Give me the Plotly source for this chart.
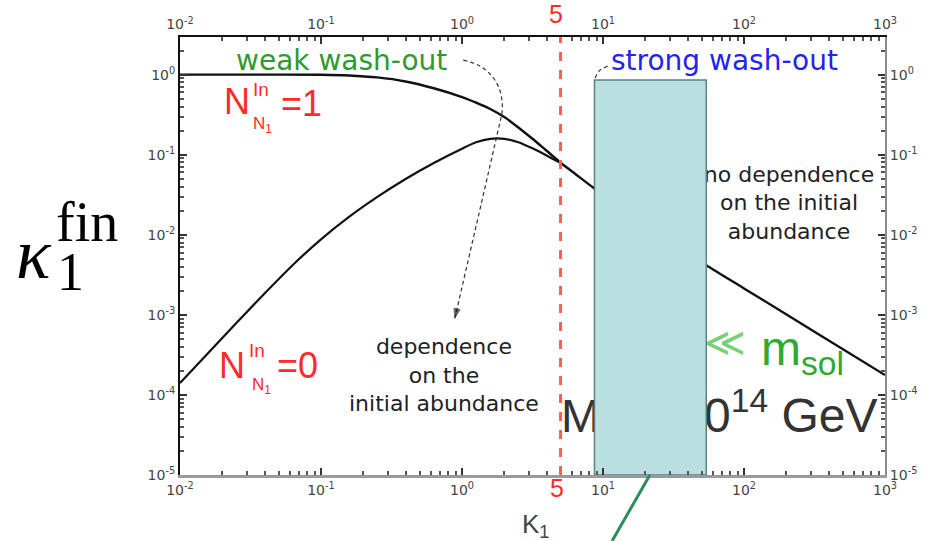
import plotly.graph_objects as go

# ---------------- data ----------------
K_N1 = [0.01, 0.0316, 0.1, 0.158, 0.251, 0.398, 0.631, 1.0, 1.259, 1.585, 1.995, 2.51,
        3.16, 3.98, 5.01, 6.31, 8.6, 15.85, 31.6, 53.7, 100, 316, 1000]
KAPPA_N1 = [1.0, 1.0, 0.995, 0.977, 0.923, 0.822, 0.676, 0.525, 0.447, 0.372, 0.295,
            0.219, 0.158, 0.112, 0.0794, 0.0582, 0.0384, 0.0182, 0.00794, 0.00419,
            0.00214, 0.000617, 0.000177]
K_N0 = [0.01, 0.01585, 0.0251, 0.0398, 0.0631, 0.1, 0.158, 0.251, 0.398, 0.631, 1.0,
        1.259, 1.585, 1.995, 2.51, 3.16, 3.98, 5.01]
KAPPA_N0 = [1.41e-4, 3.33e-4, 7.89e-4, 1.85e-3, 4.20e-3, 8.77e-3, 0.0167, 0.0297, 0.0498,
            0.0789, 0.119, 0.143, 0.158, 0.158, 0.143, 0.120, 0.0977, 0.0785]
K_CRIT = 5                      # red dashed line
BOX_K = [8.7, 54]               # strong wash-out band
BOX_TOP = 0.86
ARROW_WEAK_K = [1.02, 1.34, 1.63, 1.83, 1.92, 1.92, 1.86, 0.89]
ARROW_WEAK_KAPPA = [1.52, 1.28, 0.96, 0.68, 0.48, 0.33, 0.256, 9.1e-4]
ARROW_STRONG_K = [10.8, 9.4, 8.8]
ARROW_STRONG_KAPPA = [1.28, 1.11, 0.91]
GREEN_LINE_K = [21.5, 11.6]

X_TICKS = [0.01, 0.1, 1, 10, 100, 1000]
X_TICKTEXT = ["10<sup>-2</sup>", "10<sup>-1</sup>", "10<sup>0</sup>",
              "10<sup>1</sup>", "10<sup>2</sup>", "10<sup>3</sup>"]
Y_TICKS = [1e-5, 1e-4, 1e-3, 1e-2, 1e-1, 1]
Y_TICKTEXT = ["10<sup>-5</sup>", "10<sup>-4</sup>", "10<sup>-3</sup>",
              "10<sup>-2</sup>", "10<sup>-1</sup>", "10<sup>0</sup>"]

# ---------------- geometry helpers (layout positions) ----------------
PL, PR, PT, PB = 180, 885, 37, 475
XR = [-2, 3]
YR = [-5, 0.47]


def px_x(px):
    return (px - PL) / (PR - PL)


def px_y(py):
    return (PB - py) / (PB - PT)


def k_at(px):
    return 10 ** (XR[0] + (XR[1] - XR[0]) * px_x(px))


def v_at(py):
    return 10 ** (YR[0] + (YR[1] - YR[0]) * px_y(py))


minor_x = [m * 10 ** e for e in range(-2, 3) for m in range(2, 10)]
minor_y = [m * 10 ** e for e in range(-5, 1) for m in range(2, 10)]

fig = go.Figure()

# text that sits beneath the band
fig.add_trace(go.Scatter(
    x=[k_at(789)], y=[v_at(205)], mode="text",
    text=["no dependence<br>on the initial<br>abundance"],
    textposition="middle center",
    textfont=dict(family="DejaVu Sans", size=22, color="#222"),
    hoverinfo="skip", showlegend=False))
fig.add_trace(go.Scatter(
    x=[k_at(561)], y=[v_at(420)], mode="text",
    text=["M<sub>1</sub> = 1"], textposition="middle right",
    textfont=dict(family="Liberation Sans", size=47, color="#333"),
    hoverinfo="skip", showlegend=False))
fig.add_trace(go.Scatter(
    x=[k_at(704)], y=[v_at(420)], mode="text",
    text=["0<sup>14</sup> GeV"], textposition="middle right",
    textfont=dict(family="Liberation Sans", size=48, color="#333"),
    hoverinfo="skip", showlegend=False))
fig.add_trace(go.Scatter(
    x=[k_at(644)], y=[v_at(346)], mode="text",
    text=["m\u0303<sub>1</sub> ≪"], textposition="middle right",
    textfont=dict(family="Liberation Sans", size=40, color="#7ad07a"),
    hoverinfo="skip", showlegend=False))
fig.add_trace(go.Scatter(
    x=[k_at(761)], y=[v_at(353)], mode="text",
    text=["m<sub>sol</sub>"], textposition="middle right",
    textfont=dict(family="Liberation Sans", size=48, color="#2eaa2e"),
    hoverinfo="skip", showlegend=False))

# curves
fig.add_trace(go.Scatter(x=K_N1, y=KAPPA_N1, mode="lines",
                         line=dict(color="#111", width=2.4, shape="spline", smoothing=0.8),
                         hoverinfo="skip", showlegend=False))
fig.add_trace(go.Scatter(x=K_N0, y=KAPPA_N0, mode="lines",
                         line=dict(color="#111", width=2.2, shape="spline", smoothing=0.8),
                         hoverinfo="skip", showlegend=False))

# band
fig.add_trace(go.Scatter(
    x=[BOX_K[0], BOX_K[1], BOX_K[1], BOX_K[0], BOX_K[0]],
    y=[1e-5, 1e-5, BOX_TOP, BOX_TOP, 1e-5],
    mode="lines", fill="toself", fillcolor="#b9dfe0",
    line=dict(color="#5b8283", width=1.5), hoverinfo="skip", showlegend=False))

# dashed arrows
n = len(ARROW_WEAK_K)
fig.add_trace(go.Scatter(
    x=ARROW_WEAK_K, y=ARROW_WEAK_KAPPA, mode="lines+markers",
    line=dict(color="#333", width=1.2, dash="4px,3px", shape="spline"),
    marker=dict(symbol="arrow", angleref="previous", size=[0] * (n - 1) + [10], color="#111"),
    hoverinfo="skip", showlegend=False))
fig.add_trace(go.Scatter(
    x=ARROW_STRONG_K, y=ARROW_STRONG_KAPPA, mode="lines",
    line=dict(color="#333", width=1.2, dash="4px,3px", shape="spline"),
    hoverinfo="skip", showlegend=False))

# invisible trace to activate overlay axes
fig.add_trace(go.Scatter(x=[1], y=[1], xaxis="x2", yaxis="y2", mode="markers",
                         marker=dict(opacity=0), hoverinfo="skip", showlegend=False))

# red dashed line
fig.add_shape(type="line", xref="x", yref="paper", x0=K_CRIT, x1=K_CRIT, y0=0, y1=1,
              line=dict(color="#ff5c5c", width=3, dash="dash"), layer="above")
# green line below the axis
fig.add_shape(type="line", xref="x", yref="paper", x0=GREEN_LINE_K[0], x1=GREEN_LINE_K[1],
              y0=0, y1=px_y(541), line=dict(color="#2e8b5a", width=3), layer="above")

axis_common = dict(type="log", showgrid=False, zeroline=False, ticks="inside", ticklen=7,
                   tickwidth=1.5, tickcolor="#333", automargin=False,
                   tickfont=dict(family="DejaVu Sans", size=14, color="#444"))
fig.update_layout(
    width=928, height=541, margin=dict(l=PL, r=928 - PR, t=PT, b=541 - PB, autoexpand=False),
    paper_bgcolor="white", plot_bgcolor="white",
    xaxis=dict(range=XR, tickvals=X_TICKS, ticktext=X_TICKTEXT, showline=True,
               linecolor="#9a9a9a", linewidth=3, anchor="y",
               minor=dict(ticks="inside", ticklen=4, tickcolor="#555", tickvals=minor_x),
               **axis_common),
    xaxis2=dict(range=XR, tickvals=X_TICKS, ticktext=X_TICKTEXT, showline=True,
                linecolor="#111", linewidth=2, overlaying="x", side="top", anchor="y",
                minor=dict(ticks="inside", ticklen=4, tickcolor="#555", tickvals=minor_x),
                **axis_common),
    yaxis=dict(range=YR, tickvals=Y_TICKS, ticktext=Y_TICKTEXT, showline=True,
               linecolor="#111", linewidth=2, anchor="x",
               minor=dict(ticks="inside", ticklen=4, tickcolor="#555", tickvals=minor_y),
               **axis_common),
    yaxis2=dict(range=YR, tickvals=Y_TICKS, ticktext=Y_TICKTEXT, showline=True,
                linecolor="#8a8a8a", linewidth=2, overlaying="y", side="right", anchor="x",
                minor=dict(ticks="inside", ticklen=4, tickcolor="#555", tickvals=minor_y),
                **axis_common),
)


def ann(text, px, py, size, color, family="Liberation Sans", **kw):
    fig.add_annotation(text=text, x=px_x(px), y=px_y(py), xref="paper", yref="paper",
                       showarrow=False, xanchor=kw.pop("xanchor", "center"),
                       yanchor=kw.pop("yanchor", "middle"),
                       font=dict(family=family, size=size, color=color), **kw)


RED = "#ff2a2a"
ann("weak wash-out", 341, 60, 28, "#2e9a2e", family="DejaVu Sans")
ann("strong wash-out", 724, 60, 28, "#2323ee", family="DejaVu Sans")
ann("dependence<br>on the<br>initial abundance", 444, 375, 22, "#222", family="DejaVu Sans")

ann("N", 237, 101, 36, RED)
ann("In", 261, 90, 19, RED)
ann("N<sub>1</sub>", 262, 125, 17, RED)
ann("=1", 301, 103, 36, RED)
ann("N", 232, 365, 36, RED)
ann("In", 257, 350, 19, RED)
ann("N<sub>1</sub>", 261, 386, 17, RED)
ann("=0", 297, 365, 36, RED)

ann("5", 556, 14, 25, RED)
ann("5", 557, 488, 25, RED)
ann("K<sub>1</sub>", 535, 525, 26, "#444")

ann("<i>κ</i>", 34, 254, 72, "#000", family="Liberation Serif")
ann("fin", 87, 222, 56, "#000", family="Liberation Serif")
ann("1", 70, 272, 54, "#000", family="Liberation Serif")

fig.write_html("out.html")
